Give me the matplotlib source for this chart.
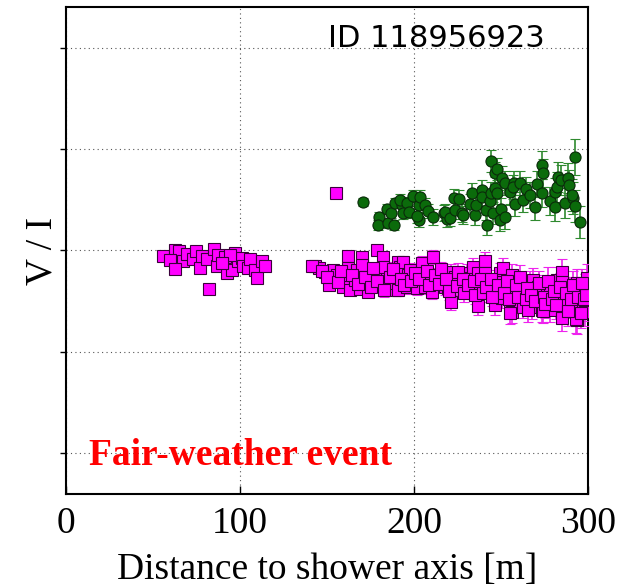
import numpy as np
import matplotlib
matplotlib.use("Agg")
import matplotlib.pyplot as plt

# magenta squares: distance [m], V/I, error
mag_x = [55.7, 62.6, 64.9, 59.8, 67.2, 62.6, 69.5, 73.0, 74.7, 77.0, 78.2, 81.0, 85.0, 86.8,
         87.4, 91.4, 92.5, 95.4, 97.1, 98.8, 101.1, 101.7, 104.6, 105.7, 108.6, 109.8, 112.6,
         114.4, 82.2, 94.3, 89.7,
         143.1, 145.4, 148.8, 153.4, 151.1, 155.7, 159.2, 162.1, 162.1, 159.2, 163.2, 166.1,
         167.2, 170.1, 170.1, 170.7, 169.0, 173.6, 174.7, 177.0, 178.7, 182.2, 180.5, 181.6,
         184.5, 185.6, 187.4, 190.2, 189.1, 190.8, 182.2,
         187.9, 191.9, 193.7, 189.1, 190.8, 196.0, 196.5, 197.7, 201.7, 204.6, 205.2, 206.3,
         209.2, 210.3, 210.9, 213.8, 216.7, 217.8, 219.5, 221.3, 222.4, 221.3, 226.4, 223.6,
         230.5, 232.2, 233.3, 233.9, 236.8, 237.9, 236.8, 240.8, 240.8, 242.5,
         243.7, 246.5, 247.7, 249.4, 250.6, 251.1, 250.6, 255.2, 256.3, 256.9, 256.3, 262.1,
         260.9, 263.8, 262.6, 267.8, 266.7, 268.4, 270.7, 271.3, 273.6, 276.4, 278.2, 278.2,
         282.2, 285.1, 285.1, 285.6, 283.9, 286.8, 285.1, 289.6, 292.5, 293.7, 293.7, 295.4,
         297.1, 298.3, 299.4,
         255.2, 265.5, 274.1, 293.1, 298.3, 155.2]
mag_y = [0.973, 1.002, 0.998, 0.953, 0.948, 0.909, 0.983, 0.958, 0.998, 0.914, 0.973, 0.958,
         1.007, 0.924, 0.978, 0.968, 0.889, 0.904, 0.988, 0.948, 0.963, 0.924, 0.914, 0.958,
         0.904, 0.865, 0.948, 0.924, 0.810, 0.978, 0.938,
         0.924, 0.914, 0.894, 0.904, 0.830, 0.879, 0.869, 0.973, 0.914, 0.820, 0.805, 0.855,
         0.904, 0.968, 0.929, 0.855, 0.810, 0.796, 0.855, 0.894, 1.002, 0.968, 0.889, 0.840,
         0.889, 0.820, 0.855, 0.894, 0.805, 0.943, 0.919,
         0.894, 0.919, 0.943, 0.840, 0.805, 0.820, 0.879, 0.904, 0.815, 0.938, 0.879, 0.820,
         0.855, 0.796, 0.968, 0.865, 0.894, 0.820, 0.815, 0.894, 0.840, 0.746, 0.845, 0.869,
         0.889, 0.865, 0.805, 0.919, 0.889, 0.815, 0.726, 0.948, 0.889, 0.840,
         0.791, 0.731, 0.805, 0.889, 0.845, 0.914, 0.766, 0.746, 0.879, 0.805, 0.697, 0.820,
         0.746, 0.791, 0.722, 0.722, 0.840, 0.855, 0.791, 0.820, 0.707, 0.781, 0.820, 0.707,
         0.855, 0.894, 0.845, 0.771, 0.781, 0.731, 0.667, 0.805, 0.741, 0.840, 0.658, 0.781,
         0.722, 0.815, 0.865,
         0.692, 0.707, 0.702, 0.662, 0.697, 1.283]
mag_err = [0.01] * 31 + \
          [0.02] * 31 + \
          [0.03, 0.03, 0.03, 0.03, 0.03, 0.035, 0.035, 0.035, 0.035, 0.035, 0.035, 0.035,
           0.035, 0.035, 0.035, 0.035, 0.04, 0.04, 0.04, 0.04, 0.04, 0.04, 0.04, 0.04,
           0.045, 0.045, 0.045, 0.045, 0.045, 0.045, 0.045, 0.045, 0.045, 0.045] + \
          [0.045, 0.05, 0.05, 0.05, 0.05, 0.05, 0.05, 0.055, 0.055, 0.055, 0.055, 0.055,
           0.055, 0.055, 0.055, 0.06, 0.06, 0.06, 0.06, 0.06, 0.06, 0.06, 0.06, 0.06,
           0.065, 0.065, 0.065, 0.065, 0.065, 0.065, 0.065, 0.065, 0.07, 0.07, 0.07, 0.07,
           0.07, 0.07, 0.07] + \
          [0.055, 0.06, 0.06, 0.07, 0.07, 0.01]

# further stations inside the dense band beyond 140 m
mag2_x = [141.4, 147.0, 150.0, 156.5, 158.0, 164.5, 168.0, 172.0, 175.5, 176.5, 179.0,
          183.0, 186.0, 188.0, 192.5, 194.5, 198.5, 200.5, 203.0, 207.5, 208.5, 212.0, 214.5,
          215.5, 218.5,
          220.0, 224.5, 225.0, 228.0, 229.0, 231.0, 234.5, 235.0, 238.5, 239.5, 241.5, 244.5,
          245.0, 248.5,
          252.0, 253.5, 254.5, 258.5, 259.5, 261.0, 264.5, 265.0, 267.0, 269.5, 272.0, 274.5,
          275.5, 277.0, 279.5, 280.5, 281.5, 284.0, 287.5, 288.5, 290.5, 291.5, 294.5, 296.0,
          297.5, 299.0, 296.5]
mag2_y = [0.924, 0.900, 0.870, 0.845, 0.900, 0.880, 0.835, 0.870, 0.820, 0.915, 0.850,
          0.805, 0.870, 0.910, 0.860, 0.830, 0.850, 0.890, 0.860, 0.900, 0.830, 0.880, 0.835,
          0.910, 0.860,
          0.800, 0.825, 0.895, 0.860, 0.790, 0.830, 0.850, 0.780, 0.860, 0.790, 0.820, 0.860,
          0.770, 0.830,
          0.790, 0.850, 0.760, 0.830, 0.770, 0.870, 0.760, 0.815, 0.780, 0.750, 0.840, 0.770,
          0.735, 0.850, 0.760, 0.800, 0.730, 0.820, 0.790, 0.700, 0.760, 0.830, 0.770, 0.690,
          0.760, 0.780, 0.840]
mag2_err = [0.02] * 11 + [0.035] * 14 + [0.045] * 14 + [0.06] * 12 + [0.07] * 15

# green circles: distance [m], V/I, error
grn_x = [170.4, 179.9, 179.3, 185.1, 184.5, 188.5, 186.8, 189.1, 193.1, 191.9, 196.0, 193.7,
         197.1, 199.4, 202.9, 203.4, 206.3, 208.0, 202.9, 201.7, 210.9, 217.2, 219.0,
         217.8, 220.7, 223.6, 223.0, 225.9, 227.6, 228.2, 232.2, 233.3, 235.1, 235.6, 239.1,
         239.1, 241.4, 242.0, 243.7, 244.2, 244.2, 245.4, 246.5, 246.5, 247.7, 247.7, 249.4,
         250.0, 250.6, 252.3, 252.3, 255.2, 257.5, 258.0, 256.9, 260.9, 262.6, 264.4, 266.7,
         269.5, 270.7, 273.6, 274.1, 273.6, 278.2, 281.0, 281.0, 282.2, 282.8, 284.5, 286.8,
         288.5, 289.1, 291.4, 292.5, 292.5, 295.4, 290.8]
grn_y = [1.239, 1.165, 1.126, 1.136, 1.205, 1.126, 1.185, 1.234, 1.224, 1.249, 1.234, 1.185,
         1.190, 1.269, 1.224, 1.264, 1.224, 1.195, 1.150, 1.170, 1.165, 1.185, 1.155,
         1.190, 1.160, 1.200, 1.259, 1.254, 1.185, 1.175, 1.229, 1.283, 1.175, 1.224, 1.298,
         1.264, 1.200, 1.126, 1.244, 1.283, 1.441, 1.185, 1.308, 1.382, 1.283, 1.402, 1.150,
         1.205, 1.357, 1.165, 1.333, 1.288, 1.333, 1.229, 1.313, 1.333, 1.249, 1.303, 1.274,
         1.214, 1.328, 1.421, 1.382, 1.283, 1.244, 1.288, 1.214, 1.313, 1.362, 1.347, 1.234,
         1.357, 1.323, 1.259, 1.219, 1.461, 1.140, 1.274]
grn_err = [0.02, 0.025, 0.025, 0.025, 0.025, 0.025, 0.025, 0.025, 0.03, 0.03, 0.03, 0.03,
           0.03, 0.03, 0.035, 0.035, 0.035, 0.035, 0.035, 0.035, 0.04, 0.04, 0.04,
           0.04, 0.04, 0.045, 0.045, 0.045, 0.045, 0.045, 0.05, 0.05, 0.05, 0.05, 0.05,
           0.05, 0.05, 0.05, 0.055, 0.055, 0.055, 0.055, 0.055, 0.055, 0.055, 0.055, 0.055,
           0.055, 0.06, 0.06, 0.06, 0.06, 0.06, 0.06, 0.06, 0.06, 0.06, 0.06, 0.065,
           0.065, 0.065, 0.07, 0.07, 0.07, 0.07, 0.07, 0.07, 0.075, 0.075, 0.075, 0.075,
           0.075, 0.075, 0.08, 0.08, 0.09, 0.08, 0.08]

event_id = "ID 118956923"
event_label = "Fair-weather event"

serif = "Liberation Serif"

fig = plt.figure(figsize=(6.17, 5.88), dpi=100)
ax = fig.add_axes([0.107, 0.160, 0.846, 0.828])

ax.errorbar(grn_x, grn_y, yerr=grn_err, fmt='o', ms=8, mfc='#0b6b0b', mec='#0a2a0a',
            mew=0.8, ecolor='#2f8a2f', elinewidth=1.2, capsize=3.5, capthick=1.0, zorder=3)
ax.errorbar(mag_x + mag2_x, mag_y + mag2_y, yerr=mag_err + mag2_err, fmt='s', ms=8,
            mfc='#ff00ff', mec='#3a003a', mew=0.8, ecolor='#ee22ee', elinewidth=1.2,
            capsize=3.5, capthick=1.0, zorder=4)

ax.set_xlim(0, 300)
ax.set_ylim(-0.2, 2.2)
ax.set_xticks([0, 100, 200, 300])
ax.set_yticks([0.0, 0.5, 1.0, 1.5, 2.0])
ax.set_yticklabels([])
ax.grid(True, linestyle=(0, (1, 3)), color='#555555', linewidth=0.8)
ax.set_axisbelow(True)

ax.tick_params(axis='x', direction='in', length=6, width=1, pad=9, labelsize=27)
ax.tick_params(axis='y', direction='out', length=4, width=1)
for lab in ax.get_xticklabels():
    lab.set_fontfamily(serif)
for s in ax.spines.values():
    s.set_linewidth(1.5)

ax.set_xlabel("Distance to shower axis [m]", fontsize=27, family=serif, labelpad=8)
ax.set_ylabel("V / I", fontsize=27, family=serif, labelpad=-3)

ax.text(0.709, 0.935, event_id, transform=ax.transAxes, ha='center', va='center',
        fontsize=22, family='DejaVu Sans')
ax.text(0.044, 0.06, event_label, transform=ax.transAxes, ha='left', va='baseline',
        fontsize=27, family=serif, fontweight='bold', color='red')

fig.savefig("out.png", dpi=100)
